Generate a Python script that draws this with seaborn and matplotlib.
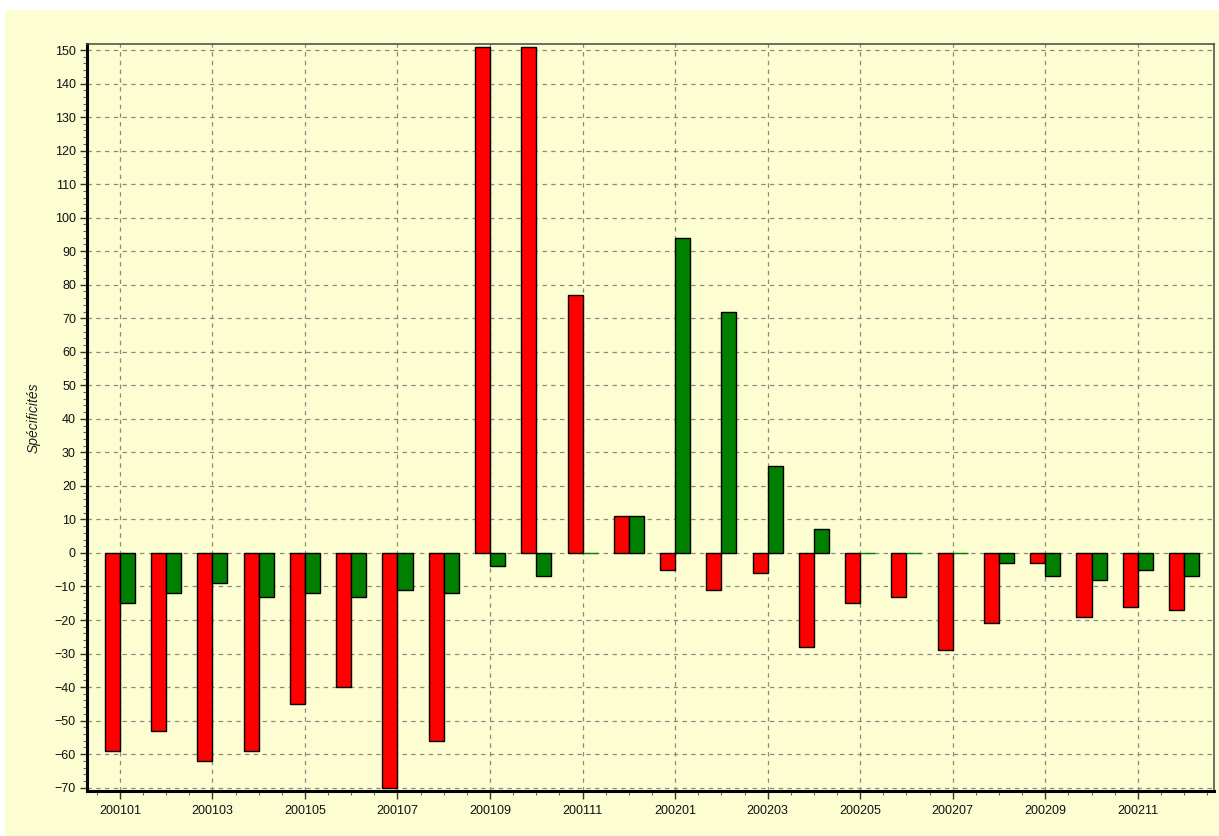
import numpy as np
import pandas as pd
import matplotlib
matplotlib.use("Agg")
import matplotlib.pyplot as plt
import seaborn as sns
from matplotlib.patches import Rectangle
from matplotlib.ticker import MultipleLocator

periods = ["200101", "200102", "200103", "200104", "200105", "200106",
           "200107", "200108", "200109", "200110", "200111", "200112",
           "200201", "200202", "200203", "200204", "200205", "200206",
           "200207", "200208", "200209", "200210", "200211", "200212"]
red_values = [-59, -53, -62, -59, -45, -40, -70, -56, 151, 151, 77, 11,
              -5, -11, -6, -28, -15, -13, -29, -21, -3, -19, -16, -17]
green_values = [-15, -12, -9, -13, -12, -13, -11, -12, -4, -7, 0, 11,
                94, 72, 26, 7, 0, 0, 0, -3, -7, -8, -5, -7]
series_names = ["rouge", "vert"]
series_colors = ["#ff0000", "#007f00"]
y_label = "Spécificités"

bg = "#fdfdd2"

df = pd.DataFrame({
    "periode": periods * 2,
    "valeur": red_values + green_values,
    "serie": [series_names[0]] * len(periods) + [series_names[1]] * len(periods),
})

sns.set_style("white")
plt.rcParams["font.family"] = ["Liberation Sans", "DejaVu Sans"]

fig = plt.figure(figsize=(12.19, 8.36), dpi=100, facecolor="white")
fig.patches.append(Rectangle((0.004, 0), 0.996, 0.988, transform=fig.transFigure,
                             facecolor=bg, edgecolor="none", zorder=-10))
ax = fig.add_axes([0.0714, 0.0538, 0.9246, 0.8936])
ax.set_facecolor(bg)

sns.barplot(data=df, x="periode", y="valeur", hue="serie", order=periods,
            hue_order=series_names, palette=series_colors, width=0.65,
            edgecolor="black", linewidth=1.0, saturation=1, legend=False, ax=ax)

# zero-height bars show as a thin coloured line, not a black one
for bar in ax.patches:
    if bar.get_height() == 0:
        bar.set_edgecolor(bar.get_facecolor())

ax.set_xlim(-0.71, 23.65)
ax.set_ylim(-71, 151.8)

ax.set_xticks(range(0, len(periods), 2))
ax.set_xticklabels(periods[::2])
ax.xaxis.set_minor_locator(MultipleLocator(0.5))
ax.yaxis.set_major_locator(MultipleLocator(10))
ax.yaxis.set_minor_locator(MultipleLocator(2))

ax.tick_params(axis="both", which="major", direction="out", length=5, width=1,
               color="#333333", labelsize=9, labelcolor="#111111", pad=3,
               bottom=True, left=True)
ax.tick_params(axis="both", which="minor", direction="out", length=3, width=0.8,
               color="#666666", bottom=True, left=True)
ax.tick_params(axis="x", which="major", length=6, pad=4)

ax.grid(True, which="major", color="#8a8a80", linewidth=0.9,
        linestyle=(0, (3.5, 3.5)))
ax.set_axisbelow(True)

for side in ["left", "bottom"]:
    ax.spines[side].set_linewidth(2.2)
    ax.spines[side].set_color("black")
for side in ["top", "right"]:
    ax.spines[side].set_linewidth(1.1)
    ax.spines[side].set_color("#444444")
    ax.spines[side].set_visible(True)

ax.set_xlabel("")
ax.set_ylabel(y_label, fontsize=10, fontstyle="italic", color="#222222", labelpad=10)

fig.savefig("out.png", dpi=100, facecolor=fig.get_facecolor())
